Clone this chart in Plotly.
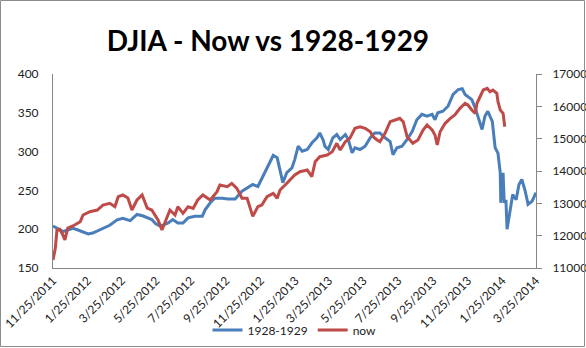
import pandas as pd
import plotly.graph_objects as go

START = "2011-11-25"

# 1928-1929 DJIA (left axis), days since START
blue_days = [0, 9, 18, 26, 35, 44, 53, 62, 70, 83,
             92, 100, 113, 123, 136, 148, 159, 167, 174, 181,
             189, 196, 203, 211, 220, 229, 238, 250, 263, 268,
             277, 285, 298, 308, 321, 333, 342, 352, 361, 370,
             377, 382, 388, 395, 400, 405, 412, 421, 426, 432,
             439, 448, 456, 465, 470, 476, 479, 485, 493, 500,
             506, 515, 520, 527, 532, 541, 550, 559, 567, 576,
             585, 594, 599, 606, 615, 624, 633, 641, 650, 659,
             668, 673, 678, 687, 696, 705, 714, 721, 726, 731,
             738, 744, 749, 756, 761, 766, 774, 779, 784, 788,
             789, 793, 795, 798, 800, 805, 810, 816, 821, 826,
             832, 837, 844, 851]
blue_vals = [204, 201, 197, 199, 201, 199, 197, 194, 195, 199,
             202, 205, 212, 214, 211, 219, 217, 215, 212.5, 207,
             204, 206, 208, 212.5, 208, 208, 214.6, 216.7, 216.7, 225,
             234, 240, 240, 239, 239, 249, 253, 257.6, 255, 268,
             277, 285.5, 295, 292, 277, 260, 273, 279, 290, 307,
             300.5, 302.7, 311, 317.8, 324, 315, 307, 302.7, 317.8, 322,
             315.6, 322, 316, 298.4, 305, 302.7, 307, 317.8, 324, 324,
             317.8, 313, 296, 305, 307, 315.6, 326, 341, 348, 345.6,
             348, 341, 350, 352, 358.5, 373.6, 380, 381, 373.6, 371,
             367, 356, 345.6, 328.5, 345.6, 352, 339, 305, 298, 272.6,
             234, 272.6, 234, 238, 200, 225, 244.7, 238, 257.6, 264,
             249, 232, 236, 247]

# Now DJIA (right axis), days since START
red_days = [0, 4, 7, 12, 18, 21, 26, 35, 48, 53,
            65, 78, 88, 100, 109, 115, 123, 132, 139, 148,
            157, 166, 174, 185, 192, 197, 206, 215, 220, 229,
            238, 247, 255, 264, 277, 289, 294, 307, 315, 324,
            333, 342, 352, 361, 368, 377, 388, 395, 400, 409,
            418, 426, 435, 448, 456, 462, 470, 483, 492, 500,
            506, 515, 523, 532, 541, 550, 559, 564, 571, 576,
            585, 594, 603, 611, 617, 624, 634, 643, 652, 659,
            668, 673, 677, 682, 691, 700, 708, 717, 726, 731,
            738, 744, 747, 752, 758, 765, 770, 775, 782, 784,
            788, 793, 796]
red_vals = [11247, 11600, 12175, 12196, 12000, 11866, 12237, 12300, 12432, 12639,
            12741, 12793, 12948, 13000, 12896, 13205, 13257, 13164, 12793, 13103,
            13257, 12855, 12793, 12484, 12175, 12381, 12793, 12639, 12896, 12690,
            12896, 12845, 13103, 13257, 13103, 13360, 13567, 13515, 13618, 13464,
            13156, 13156, 12597, 12900, 12950, 13206, 13310, 13156, 13412, 13567,
            13721, 13876, 13979, 14031, 13824, 14288, 14443, 14495, 14597, 14856,
            14650, 14907, 15011, 15320, 15370, 15320, 15215, 15061, 14958, 14907,
            15166, 15525, 15577, 15629, 15525, 15061, 14856, 14958, 15268, 15423,
            15268, 15113, 14804, 15215, 15475, 15629, 15732, 15939, 16094, 16041,
            15887, 15784, 16094, 16298, 16505, 16557, 16453, 16505, 16402, 16143,
            15887, 15784, 15370]

X_END = "2014-03-25"
TITLE = "DJIA - Now vs 1928-1929"

start = pd.Timestamp(START)
nb = min(len(blue_days), len(blue_vals))
nr = min(len(red_days), len(red_vals))
blue_x = [start + pd.Timedelta(days=d) for d in blue_days[:nb]]
red_x = [start + pd.Timedelta(days=d) for d in red_days[:nr]]

FONT = "Lato"
TXT = "#222222"
AX = "#868686"

fig = go.Figure()
fig.add_trace(go.Scatter(x=blue_x, y=blue_vals[:nb], name="1928-1929", mode="lines",
                         line=dict(color="#4A7EBB", width=3), yaxis="y"))
fig.add_trace(go.Scatter(x=red_x, y=red_vals[:nr], name="now", mode="lines",
                         line=dict(color="#BE4B48", width=3), yaxis="y2"))

W, H = 586, 348
L, R, T, B = 53, 50, 74, 80
ph = H - T - B

fig.update_layout(
    width=W, height=H,
    margin=dict(l=L, r=R, t=T, b=B, autoexpand=False),
    paper_bgcolor="white", plot_bgcolor="white",
    font=dict(family=FONT, size=12, color=TXT),
    title=dict(text="<b>" + TITLE + "</b>", x=268 / W, xanchor="center",
               y=1 - 41 / H, yanchor="middle", xref="container", yref="container",
               font=dict(family=FONT, size=28, color="#000000")),
    xaxis=dict(type="date", range=[START, X_END], tick0=START, dtick="M2",
               tickformat="%-m/%-d/%Y", tickangle=-45, showgrid=False,
               showline=True, linecolor=AX, linewidth=1, ticks="", zeroline=False,
               tickfont=dict(family=FONT, size=12, color=TXT)),
    yaxis=dict(range=[150, 400], dtick=50, showgrid=False, showline=True,
               linecolor=AX, linewidth=1, ticks="", zeroline=False,
               ticklabelstandoff=11, tickfont=dict(family=FONT, size=12, color=TXT)),
    yaxis2=dict(range=[11000, 17000], dtick=1000, tickformat="d", overlaying="y", side="right",
                showgrid=False, showline=True, linecolor=AX, linewidth=1,
                ticks="outside", ticklen=5, tickcolor=AX, zeroline=False,
                ticklabelstandoff=8, tickfont=dict(family=FONT, size=12, color=TXT)),
    legend=dict(orientation="h", x=0.5, xanchor="center", y=-(330 - (T + ph)) / ph,
                yanchor="middle", font=dict(family=FONT, size=12, color=TXT),
                bgcolor="rgba(0,0,0,0)"),
    shapes=[dict(type="rect", xref="paper", yref="paper",
                 x0=-(L - 0.5) / (W - L - R), x1=1 + (R - 1.5) / (W - L - R),
                 y0=-(B - 1.5) / ph, y1=1 + (T - 0.5) / ph,
                 line=dict(color="#8C8C8C", width=1))],
)

fig.write_html("out.html")
